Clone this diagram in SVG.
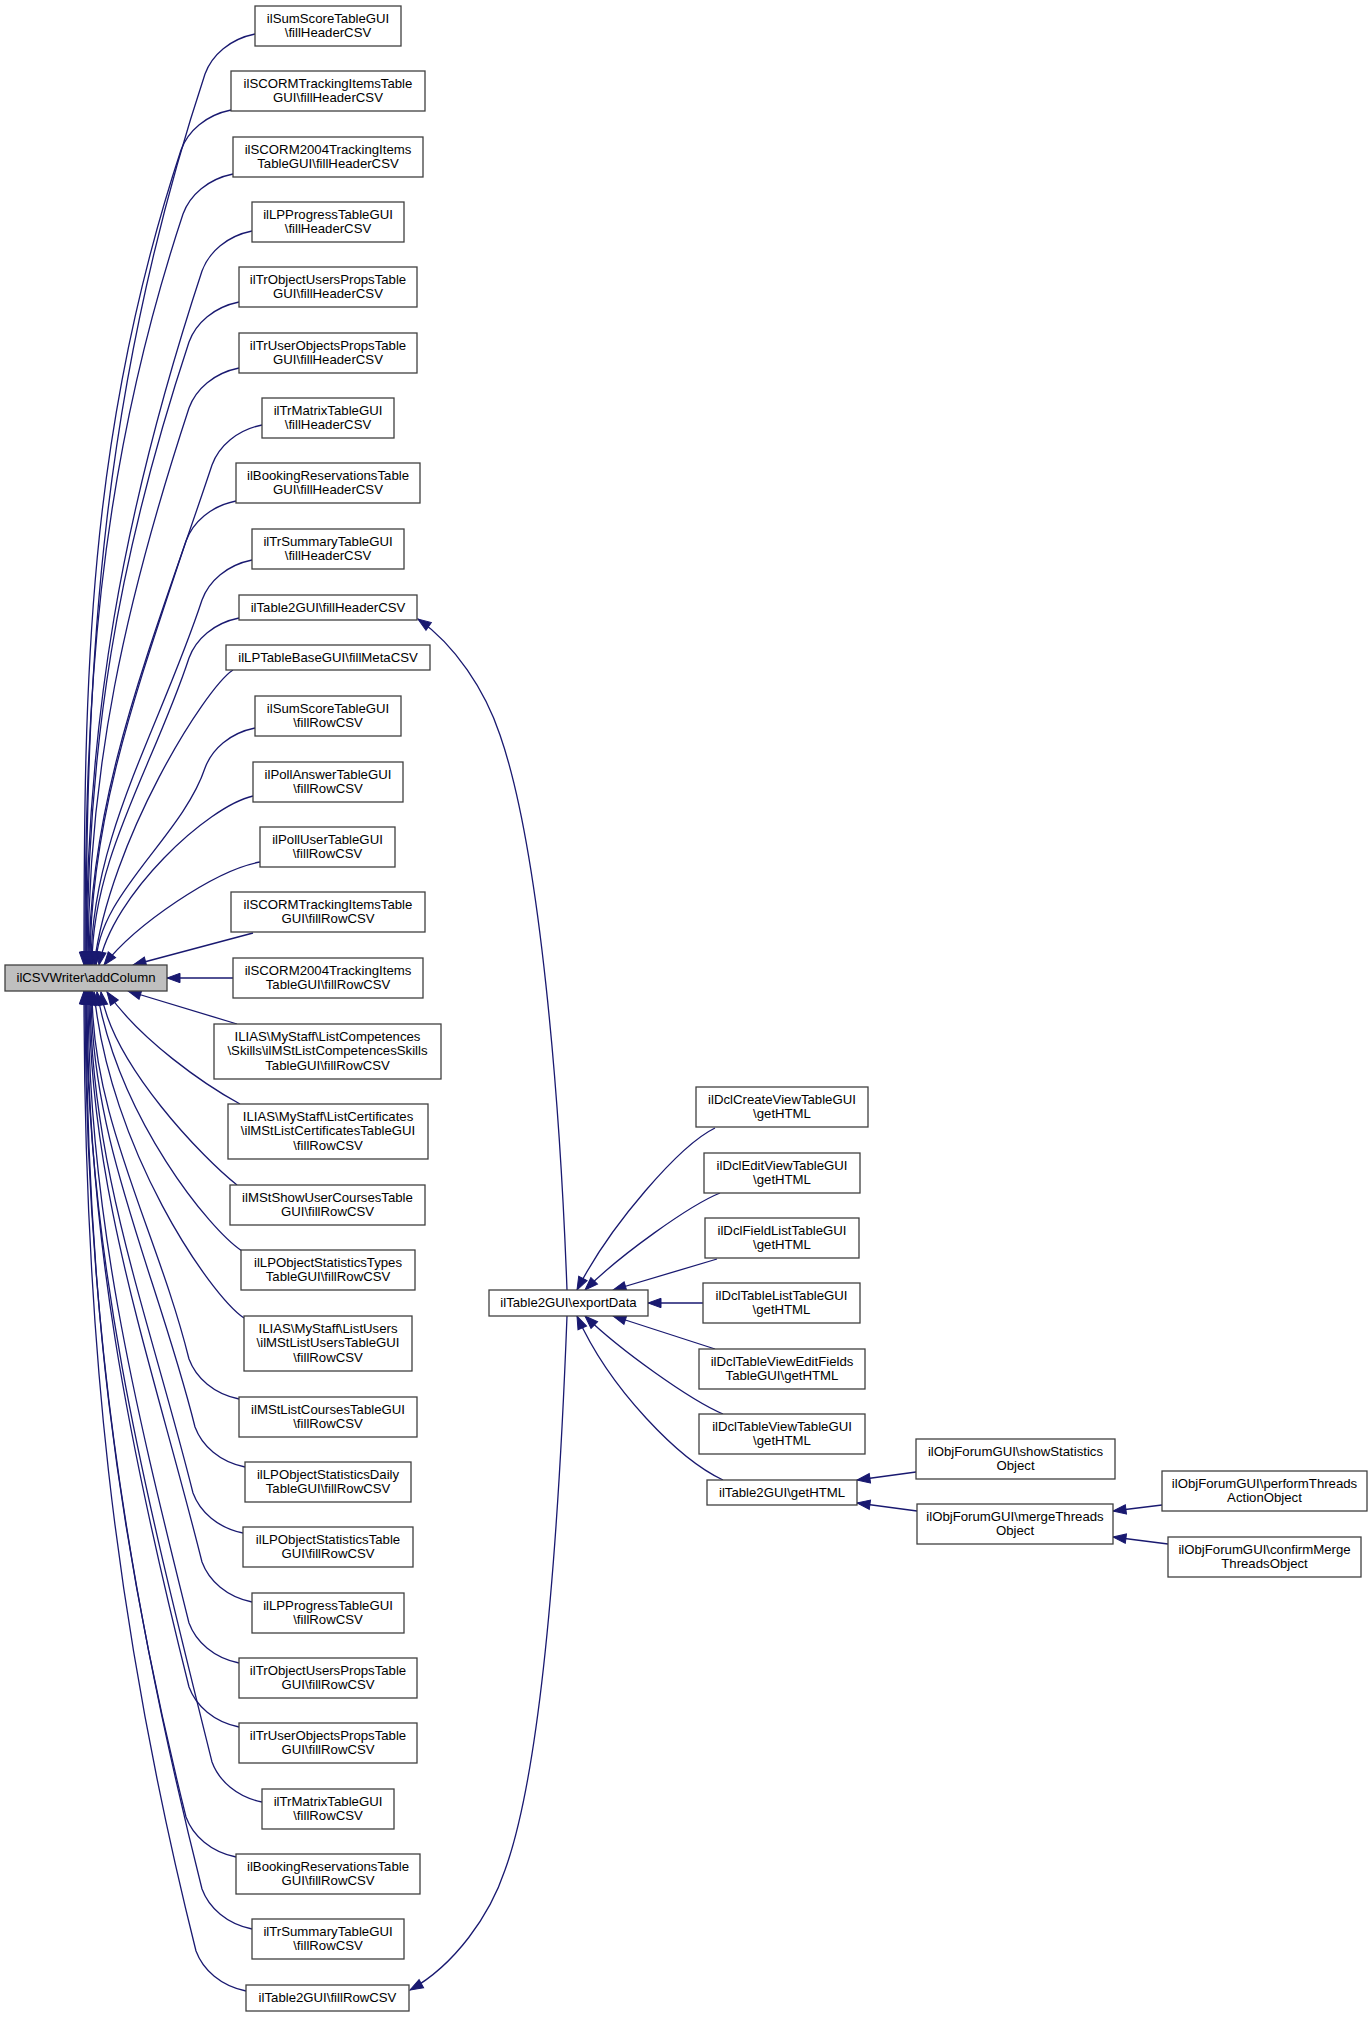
<svg xmlns="http://www.w3.org/2000/svg" width="1372" height="2017" viewBox="0 0 1372 2017">
<style>
.node rect{fill:#ffffff;stroke:#404040;stroke-width:1.3}
.node.hl rect{fill:#bfbfbf}
.node text{font-family:"Liberation Sans",Arial,Helvetica,sans-serif;font-size:13.2px;fill:#000;text-anchor:middle}
.edges path{fill:none;stroke:#191970;stroke-width:1.3;marker-end:url(#ah)}
</style>
<defs>
<marker id="ah" markerUnits="userSpaceOnUse" markerWidth="14" markerHeight="10" refX="13" refY="4.7" orient="auto" overflow="visible">
<path d="M0,0 L13,4.7 L0,9.4 z" fill="#191970" stroke="#191970" stroke-width="1"/>
</marker>
</defs>
<rect width="1372" height="2017" fill="#ffffff"/>
<g id="edges" class="edges">
<path d="M255,34 C230,39 212,55 205,74 C102,386 86,653 86,965"/>
<path d="M231,110 C206,115 188,131 181,150 C87,435 84,680 84,965"/>
<path d="M233,174 C208,179 190,195 183,214 C96,477 85,702 85,965"/>
<path d="M252,231 C227,236 209,252 202,271 C122,514 86,722 86,965"/>
<path d="M239,302 C214,307 196,323 189,342 C117,560 87,747 87,965"/>
<path d="M239,368 C214,373 196,389 189,408 C125,603 88,770 88,965"/>
<path d="M262,425 C237,430 219,446 212,465 C154,640 89,790 89,965"/>
<path d="M236,501 C211,506 193,522 186,541 C137,689 90,817 90,965"/>
<path d="M252,560 C227,565 209,581 202,600 C160,728 91,837 91,965"/>
<path d="M239,618 C214,623 196,639 189,658 C154,765 92,858 92,965"/>
<path d="M233,670 C205,688 110,840 94,965"/>
<path d="M255,728 C230,733 212,749 205,768 C182,837 96,896 96,965"/>
<path d="M253,796 C208,806 112,895 99,965"/>
<path d="M260,862 C215,870 135,925 104,965"/>
<path d="M253,933 L133,965"/>
<path d="M233,978 L167,978"/>
<path d="M237,1024 L128,991"/>
<path d="M240,1104 C205,1085 140,1040 107,992"/>
<path d="M237,1185 C205,1160 112,1065 101,992"/>
<path d="M242,1251 C210,1230 120,1120 97,992"/>
<path d="M244,1318 C210,1295 110,1150 94,992"/>
<path d="M239,1399 C214,1394 196,1378 189,1359 C157,1230 92,1120 92,991"/>
<path d="M245,1467 C220,1462 202,1446 195,1427 C157,1274 91,1144 91,991"/>
<path d="M243,1533 C218,1528 200,1512 193,1493 C149,1317 90,1167 90,991"/>
<path d="M252,1602 C227,1597 209,1581 202,1562 C152,1362 89,1191 89,991"/>
<path d="M239,1663 C214,1658 196,1642 189,1623 C134,1402 88,1212 88,991"/>
<path d="M239,1727 C214,1722 196,1706 189,1687 C128,1443 87,1235 87,991"/>
<path d="M262,1802 C237,1797 219,1781 212,1762 C145,1492 86,1261 86,991"/>
<path d="M236,1857 C211,1852 193,1836 186,1817 C114,1528 86,1280 86,991"/>
<path d="M252,1929 C227,1924 209,1908 202,1889 C123,1575 85,1305 85,991"/>
<path d="M246,1991 C221,1986 203,1970 196,1951 C112,1615 84,1327 84,991"/>
<path d="M567,1290 C560,1100 540,850 500,735 C485,690 455,645 418,619"/>
<path d="M567,1316 C560,1500 545,1760 505,1870 C490,1915 455,1965 410,1990"/>
<path d="M715,1128 C680,1145 610,1225 577,1290"/>
<path d="M720,1193 C690,1205 620,1255 585,1290"/>
<path d="M717,1259 L613,1290"/>
<path d="M703,1303 L648,1303"/>
<path d="M715,1349 L613,1316"/>
<path d="M723,1414 C690,1400 620,1350 585,1316"/>
<path d="M723,1480 C680,1460 610,1390 577,1316"/>
<path d="M916,1472 L857,1480"/>
<path d="M917,1511 L857,1503"/>
<path d="M1162,1505 L1113,1511"/>
<path d="M1168,1544 L1113,1537"/>
</g>
<g id="n_addColumn" class="node hl"><rect x="5" y="965" width="162" height="26"/><text x="86" y="982">ilCSVWriter\addColumn</text></g>
<g id="n1" class="node"><rect x="255" y="6" width="146" height="40"/><text x="328" y="22.6">ilSumScoreTableGUI</text><text x="328" y="37.2">\fillHeaderCSV</text></g>
<g id="n2" class="node"><rect x="231" y="71" width="194" height="40"/><text x="328" y="87.6">ilSCORMTrackingItemsTable</text><text x="328" y="102.2">GUI\fillHeaderCSV</text></g>
<g id="n3" class="node"><rect x="233" y="137" width="190" height="40"/><text x="328" y="153.6">ilSCORM2004TrackingItems</text><text x="328" y="168.2">TableGUI\fillHeaderCSV</text></g>
<g id="n4" class="node"><rect x="252" y="202" width="152" height="40"/><text x="328" y="218.6">ilLPProgressTableGUI</text><text x="328" y="233.2">\fillHeaderCSV</text></g>
<g id="n5" class="node"><rect x="239" y="267" width="178" height="40"/><text x="328" y="283.6">ilTrObjectUsersPropsTable</text><text x="328" y="298.2">GUI\fillHeaderCSV</text></g>
<g id="n6" class="node"><rect x="239" y="333" width="178" height="40"/><text x="328" y="349.6">ilTrUserObjectsPropsTable</text><text x="328" y="364.2">GUI\fillHeaderCSV</text></g>
<g id="n7" class="node"><rect x="262" y="398" width="132" height="40"/><text x="328" y="414.6">ilTrMatrixTableGUI</text><text x="328" y="429.2">\fillHeaderCSV</text></g>
<g id="n8" class="node"><rect x="236" y="463" width="184" height="40"/><text x="328" y="479.6">ilBookingReservationsTable</text><text x="328" y="494.2">GUI\fillHeaderCSV</text></g>
<g id="n9" class="node"><rect x="252" y="529" width="152" height="40"/><text x="328" y="545.6">ilTrSummaryTableGUI</text><text x="328" y="560.2">\fillHeaderCSV</text></g>
<g id="n10" class="node"><rect x="239" y="595" width="178" height="25"/><text x="328" y="612">ilTable2GUI\fillHeaderCSV</text></g>
<g id="n11" class="node"><rect x="226" y="645" width="204" height="25"/><text x="328" y="662">ilLPTableBaseGUI\fillMetaCSV</text></g>
<g id="n12" class="node"><rect x="255" y="696" width="146" height="40"/><text x="328" y="712.6">ilSumScoreTableGUI</text><text x="328" y="727.2">\fillRowCSV</text></g>
<g id="n13" class="node"><rect x="253" y="762" width="150" height="40"/><text x="328" y="778.6">ilPollAnswerTableGUI</text><text x="328" y="793.2">\fillRowCSV</text></g>
<g id="n14" class="node"><rect x="260" y="827" width="135" height="40"/><text x="327.5" y="843.6">ilPollUserTableGUI</text><text x="327.5" y="858.2">\fillRowCSV</text></g>
<g id="n15" class="node"><rect x="231" y="892" width="194" height="40"/><text x="328" y="908.6">ilSCORMTrackingItemsTable</text><text x="328" y="923.2">GUI\fillRowCSV</text></g>
<g id="n16" class="node"><rect x="233" y="958" width="190" height="40"/><text x="328" y="974.6">ilSCORM2004TrackingItems</text><text x="328" y="989.2">TableGUI\fillRowCSV</text></g>
<g id="n17" class="node"><rect x="214" y="1024" width="227" height="55"/><text x="327.5" y="1040.6">ILIAS\MyStaff\ListCompetences</text><text x="327.5" y="1055.2">\Skills\ilMStListCompetencesSkills</text><text x="327.5" y="1069.8">TableGUI\fillRowCSV</text></g>
<g id="n18" class="node"><rect x="228" y="1104" width="200" height="55"/><text x="328" y="1120.6">ILIAS\MyStaff\ListCertificates</text><text x="328" y="1135.2">\ilMStListCertificatesTableGUI</text><text x="328" y="1149.8">\fillRowCSV</text></g>
<g id="n19" class="node"><rect x="230" y="1185" width="195" height="40"/><text x="327.5" y="1201.6">ilMStShowUserCoursesTable</text><text x="327.5" y="1216.2">GUI\fillRowCSV</text></g>
<g id="n20" class="node"><rect x="241" y="1250" width="174" height="40"/><text x="328" y="1266.6">ilLPObjectStatisticsTypes</text><text x="328" y="1281.2">TableGUI\fillRowCSV</text></g>
<g id="n21" class="node"><rect x="244" y="1316" width="168" height="55"/><text x="328" y="1332.6">ILIAS\MyStaff\ListUsers</text><text x="328" y="1347.2">\ilMStListUsersTableGUI</text><text x="328" y="1361.8">\fillRowCSV</text></g>
<g id="n22" class="node"><rect x="239" y="1397" width="178" height="40"/><text x="328" y="1413.6">ilMStListCoursesTableGUI</text><text x="328" y="1428.2">\fillRowCSV</text></g>
<g id="n23" class="node"><rect x="245" y="1462" width="166" height="40"/><text x="328" y="1478.6">ilLPObjectStatisticsDaily</text><text x="328" y="1493.2">TableGUI\fillRowCSV</text></g>
<g id="n24" class="node"><rect x="243" y="1527" width="170" height="40"/><text x="328" y="1543.6">ilLPObjectStatisticsTable</text><text x="328" y="1558.2">GUI\fillRowCSV</text></g>
<g id="n25" class="node"><rect x="252" y="1593" width="152" height="40"/><text x="328" y="1609.6">ilLPProgressTableGUI</text><text x="328" y="1624.2">\fillRowCSV</text></g>
<g id="n26" class="node"><rect x="239" y="1658" width="178" height="40"/><text x="328" y="1674.6">ilTrObjectUsersPropsTable</text><text x="328" y="1689.2">GUI\fillRowCSV</text></g>
<g id="n27" class="node"><rect x="239" y="1723" width="178" height="40"/><text x="328" y="1739.6">ilTrUserObjectsPropsTable</text><text x="328" y="1754.2">GUI\fillRowCSV</text></g>
<g id="n28" class="node"><rect x="262" y="1789" width="132" height="40"/><text x="328" y="1805.6">ilTrMatrixTableGUI</text><text x="328" y="1820.2">\fillRowCSV</text></g>
<g id="n29" class="node"><rect x="236" y="1854" width="184" height="40"/><text x="328" y="1870.6">ilBookingReservationsTable</text><text x="328" y="1885.2">GUI\fillRowCSV</text></g>
<g id="n30" class="node"><rect x="252" y="1919" width="152" height="40"/><text x="328" y="1935.6">ilTrSummaryTableGUI</text><text x="328" y="1950.2">\fillRowCSV</text></g>
<g id="n31" class="node"><rect x="246" y="1985" width="163" height="26"/><text x="327.5" y="2002">ilTable2GUI\fillRowCSV</text></g>
<g id="n_exportData" class="node"><rect x="489" y="1290" width="159" height="26"/><text x="568.5" y="1307">ilTable2GUI\exportData</text></g>
<g id="n_dclCreate" class="node"><rect x="696" y="1087" width="172" height="40"/><text x="782" y="1103.6">ilDclCreateViewTableGUI</text><text x="782" y="1118.2">\getHTML</text></g>
<g id="n_dclEdit" class="node"><rect x="704" y="1153" width="156" height="40"/><text x="782" y="1169.6">ilDclEditViewTableGUI</text><text x="782" y="1184.2">\getHTML</text></g>
<g id="n_dclField" class="node"><rect x="705" y="1218" width="154" height="40"/><text x="782" y="1234.6">ilDclFieldListTableGUI</text><text x="782" y="1249.2">\getHTML</text></g>
<g id="n_dclTableList" class="node"><rect x="703" y="1283" width="157" height="40"/><text x="781.5" y="1299.6">ilDclTableListTableGUI</text><text x="781.5" y="1314.2">\getHTML</text></g>
<g id="n_dclEditFields" class="node"><rect x="699" y="1349" width="166" height="40"/><text x="782" y="1365.6">ilDclTableViewEditFields</text><text x="782" y="1380.2">TableGUI\getHTML</text></g>
<g id="n_dclTableView" class="node"><rect x="699" y="1414" width="166" height="40"/><text x="782" y="1430.6">ilDclTableViewTableGUI</text><text x="782" y="1445.2">\getHTML</text></g>
<g id="n_getHTML" class="node"><rect x="707" y="1480" width="150" height="25"/><text x="782" y="1497">ilTable2GUI\getHTML</text></g>
<g id="n_showStats" class="node"><rect x="916" y="1439" width="199" height="40"/><text x="1015.5" y="1455.6">ilObjForumGUI\showStatistics</text><text x="1015.5" y="1470.2">Object</text></g>
<g id="n_merge" class="node"><rect x="917" y="1504" width="196" height="40"/><text x="1015" y="1520.6">ilObjForumGUI\mergeThreads</text><text x="1015" y="1535.2">Object</text></g>
<g id="n_perform" class="node"><rect x="1162" y="1471" width="205" height="40"/><text x="1264.5" y="1487.6">ilObjForumGUI\performThreads</text><text x="1264.5" y="1502.2">ActionObject</text></g>
<g id="n_confirm" class="node"><rect x="1168" y="1537" width="193" height="40"/><text x="1264.5" y="1553.6">ilObjForumGUI\confirmMerge</text><text x="1264.5" y="1568.2">ThreadsObject</text></g>
</svg>
